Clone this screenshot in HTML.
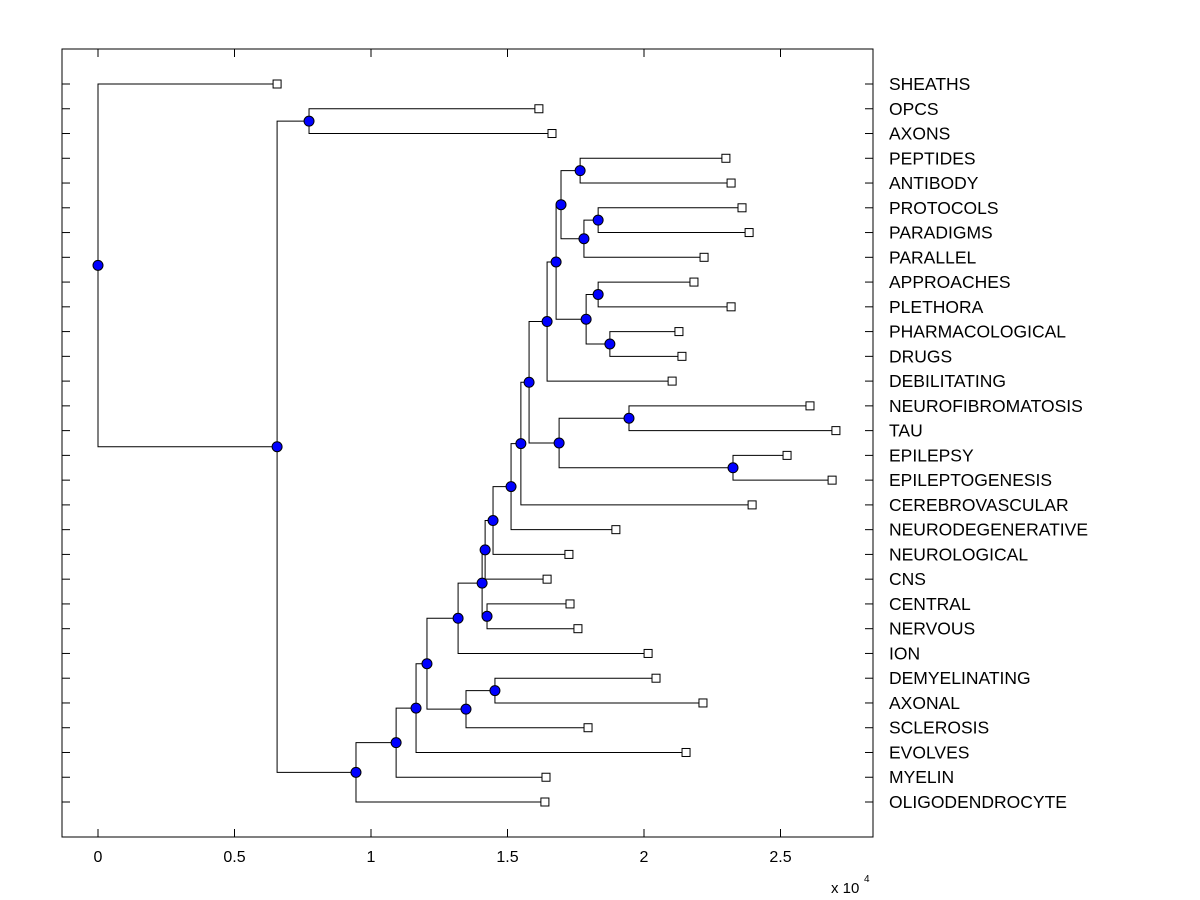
<!DOCTYPE html>
<html><head><meta charset="utf-8"><style>
body{margin:0;background:#fff}
svg{display:block;font-family:"Liberation Sans",Arial,sans-serif}
</style></head><body>
<svg id="chart" width="1200" height="900">
<rect x="0" y="0" width="1200" height="900" fill="#fff"/>
</svg>
<script>
const leafNames=["SHEATHS","OPCS","AXONS","PEPTIDES","ANTIBODY","PROTOCOLS","PARADIGMS","PARALLEL","APPROACHES","PLETHORA","PHARMACOLOGICAL","DRUGS","DEBILITATING","NEUROFIBROMATOSIS","TAU","EPILEPSY","EPILEPTOGENESIS","CEREBROVASCULAR","NEURODEGENERATIVE","NEUROLOGICAL","CNS","CENTRAL","NERVOUS","ION","DEMYELINATING","AXONAL","SCLEROSIS","EVOLVES","MYELIN","OLIGODENDROCYTE"];
const leafX=[0.656,1.615,1.663,2.300,2.319,2.359,2.385,2.220,2.183,2.319,2.128,2.139,2.103,2.608,2.703,2.524,2.689,2.396,1.897,1.725,1.645,1.729,1.758,2.015,2.044,2.216,1.795,2.154,1.641,1.637];
const nodeNames=["root","A","B","C","D","E","F","G","H","I","J","K","L","M","N","O","P","Q","R","S","T","U","V","W","X","Y","Z","AA","AB"];
const nodeX=[0,0.656,0.773,0.945,1.092,1.165,1.205,1.319,1.348,1.454,1.407,1.418,1.425,1.447,1.513,1.549,1.579,1.645,1.689,1.945,2.326,1.678,1.696,1.788,1.832,1.875,1.766,1.780,1.832];
const nodeLeft=["SHEATHS","B","OPCS","D","E","F","G","J","I","DEMYELINATING","K","M","CENTRAL","N","O","P","Q","U","S","NEUROFIBROMATOSIS","EPILEPSY","V","Z","X","APPROACHES","PHARMACOLOGICAL","PEPTIDES","AB","PROTOCOLS"];
const nodeRight=["A","C","AXONS","OLIGODENDROCYTE","MYELIN","EVOLVES","H","ION","SCLEROSIS","AXONAL","L","CNS","NERVOUS","NEUROLOGICAL","NEURODEGENERATIVE","CEREBROVASCULAR","R","DEBILITATING","T","TAU","EPILEPTOGENESIS","W","AA","Y","PLETHORA","DRUGS","ANTIBODY","PARALLEL","PARADIGMS"];
const xTicks=[0,0.5,1,1.5,2,2.5];
const xTickLabels=["0","0.5","1","1.5","2","2.5"];

const L=62,R=873,T=49,B=837;
const sx=v=>98+v*273;
const rowY=i=>84+i*(718/(leafNames.length-1));
const svg=document.getElementById('chart');
const NS='http://www.w3.org/2000/svg';
function mk(tag,attrs,parent){const e=document.createElementNS(NS,tag);for(const k in attrs)e.setAttribute(k,attrs[k]);(parent||svg).appendChild(e);return e;}

const pos={};
leafNames.forEach((n,i)=>{pos[n]={x:sx(leafX[i]),y:rowY(i)};});
function getPos(n){
  if(pos[n])return pos[n];
  const i=nodeNames.indexOf(n);
  const a=getPos(nodeLeft[i]),b=getPos(nodeRight[i]);
  pos[n]={x:sx(nodeX[i]),y:(a.y+b.y)/2};
  return pos[n];
}
nodeNames.forEach(getPos);

const box=mk('rect',{x:L,y:T,width:R-L,height:B-T,fill:'none',stroke:'#000','stroke-width':1});



xTicks.forEach((v,i)=>{
  const x=sx(v);
  const t1=mk('line',{x1:x,y1:B,x2:x,y2:B-8,stroke:'#000'});
  
  
  const t2=mk('line',{x1:x,y1:T,x2:x,y2:T+8,stroke:'#000'});
  
  
  const tx=mk('text',{x:x,y:862,'text-anchor':'middle','font-size':16});
  tx.textContent=xTickLabels[i];
  
  
});
const ex=mk('text',{x:831,y:893,'font-size':15});
ex.textContent='x 10';


const ex2=mk('text',{x:864,y:882,'font-size':10});
ex2.textContent='4';



leafNames.forEach((n,i)=>{
  const y=rowY(i);
  const a=mk('line',{x1:L,y1:y,x2:L+8,y2:y,stroke:'#000'});
  
  
  const b=mk('line',{x1:R,y1:y,x2:R-8,y2:y,stroke:'#000'});
  
  
  const t=mk('text',{x:889,y:y+6,'font-size':17.5});
  t.textContent=n;
  
  
});

nodeNames.forEach((n,i)=>{
  const p=pos[n],a=pos[nodeLeft[i]],b=pos[nodeRight[i]];
  const path=mk('path',{d:`M${a.x},${a.y}H${p.x}V${b.y}H${b.x}`,fill:'none',stroke:'#000','stroke-width':1});
  
  
});
leafNames.forEach((n,i)=>{
  const p=pos[n];
  const r=mk('rect',{x:p.x-4,y:p.y-4,width:8,height:8,fill:'#fff',stroke:'#000','stroke-width':1});
  
  
});
nodeNames.forEach(n=>{
  const p=pos[n];
  const c=mk('circle',{cx:p.x,cy:p.y,r:5,fill:'#0000ff',stroke:'#000','stroke-width':1});
  
  
});
</script>
</body></html>
